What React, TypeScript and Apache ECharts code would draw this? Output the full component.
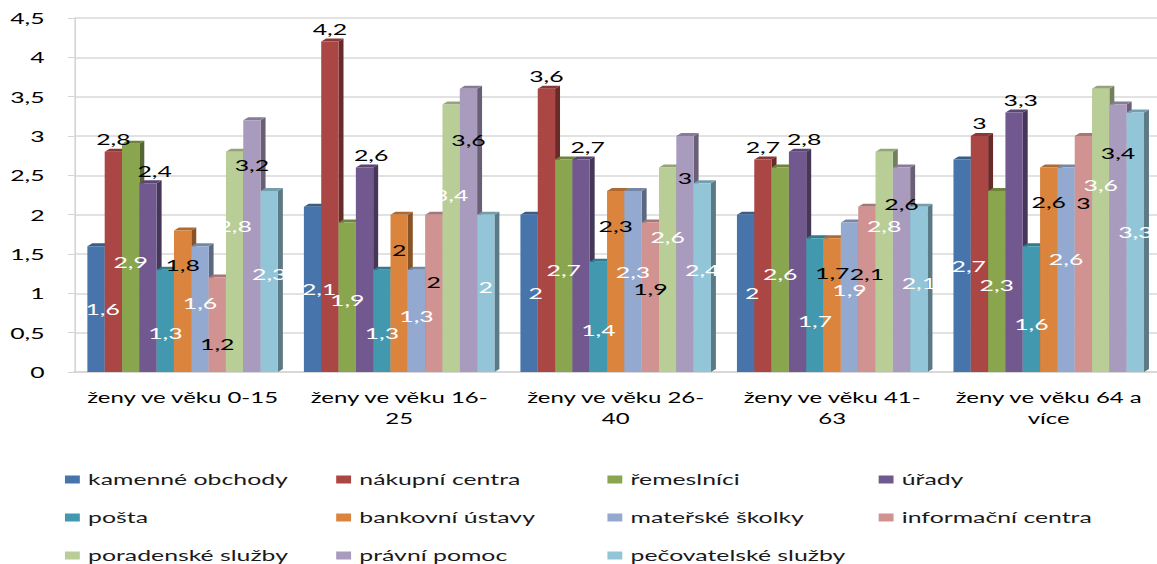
import React, { useEffect, useRef } from 'react';
import * as echarts from 'echarts';

// The reference picture is a horizontally stretched chart; we draw at a narrower width and stretch it.
const PAGE_W = 1157;
const INNER_W = 700;
const STRETCH = PAGE_W / INNER_W;

const categories = [
  'ženy ve věku 0-15',
  'ženy ve věku 16-\n25',
  'ženy ve věku 26-\n40',
  'ženy ve věku 41-\n63',
  'ženy ve věku 64 a\nvíce',
];

const seriesNames = [
  'kamenné obchody',
  'nákupní centra',
  'řemeslníci',
  'úřady',
  'pošta',
  'bankovní ústavy',
  'mateřské školky',
  'informační centra',
  'poradenské služby',
  'právní pomoc',
  'pečovatelské služby',
];

const kamenneObchody = [1.6, 2.1, 2, 2, 2.7];
const nakupniCentra = [2.8, 4.2, 3.6, 2.7, 3];
const remeslnici = [2.9, 1.9, 2.7, 2.6, 2.3];
const urady = [2.4, 2.6, 2.7, 2.8, 3.3];
const posta = [1.3, 1.3, 1.4, 1.7, 1.6];
const bankovniUstavy = [1.8, 2, 2.3, 1.7, 2.6];
const materskeSkolky = [1.6, 1.3, 2.3, 1.9, 2.6];
const informacniCentra = [1.2, 2, 1.9, 2.1, 3];
const poradenskeSluzby = [2.8, 3.4, 2.6, 2.8, 3.6];
const pravniPomoc = [3.2, 3.6, 3, 2.6, 3.4];
const pecovatelskeSluzby = [2.3, 2, 2.4, 2.1, 3.3];

const seriesValues = [
  kamenneObchody,
  nakupniCentra,
  remeslnici,
  urady,
  posta,
  bankovniUstavy,
  materskeSkolky,
  informacniCentra,
  poradenskeSluzby,
  pravniPomoc,
  pecovatelskeSluzby,
];

const colors = [
  '#4674AB',
  '#AA4644',
  '#89A54E',
  '#71588F',
  '#4198AF',
  '#DB843D',
  '#93A9CF',
  '#D19392',
  '#B9CD96',
  '#A99BBD',
  '#92C5D8',
];

const Y_MIN = 0;
const Y_MAX = 4.5;
const Y_STEP = 0.5;

const FONT = 'Lato';
const N = seriesNames.length;
const CAT_GAP = 0.12;
const DEPTH_X = 3;
const DEPTH_Y = 3;

function shade(hex: string, f: number): string {
  const n = parseInt(hex.slice(1), 16);
  const r = Math.round(((n >> 16) & 255) * f);
  const g = Math.round(((n >> 8) & 255) * f);
  const b = Math.round((n & 255) * f);
  return `rgb(${r},${g},${b})`;
}

const fmt = (v: number) => String(v).replace('.', ',');

// label placement per series (mimics the original's label layout)
type LabelRule =
  | { kind: 'frac'; y: string; dx?: number; color: string }
  | { kind: 'top'; dx?: number }
  | { kind: 'below'; d: number };

const labelRules: LabelRule[] = [
  { kind: 'frac', y: '50%', dx: 4, color: '#ffffff' },
  { kind: 'top' },
  { kind: 'frac', y: '52%', color: '#ffffff' },
  { kind: 'top', dx: 4 },
  { kind: 'frac', y: '62%', color: '#ffffff' },
  { kind: 'below', d: 27.5 },
  { kind: 'frac', y: '45%', color: '#ffffff' },
  { kind: 'below', d: 59.5 },
  { kind: 'frac', y: '34%', color: '#ffffff' },
  { kind: 'frac', y: '18%', color: '#000000' },
  { kind: 'frac', y: '46%', color: '#ffffff' },
];

function buildLabel(i: number) {
  const base = {
    show: true,
    fontFamily: FONT,
    fontSize: 15,
    formatter: (p: any) => fmt(p.value),
  };
  const r = labelRules[i];
  if (r.kind === 'frac') {
    return {
      ...base,
      position: ['50%', r.y],
      align: 'center',
      verticalAlign: 'middle',
      offset: [r.dx || 0, 0],
      color: r.color,
    };
  }
  if (r.kind === 'top') {
    return { ...base, position: 'top', distance: 5, color: '#000000', offset: [r.dx || 0, 0] };
  }
  return { ...base, position: 'insideTop', distance: r.d, color: '#000000' };
}

const legendCols = [39.3, 203.4, 367.5, 531.6];
const legendRows = [472, 510, 548];

export default function App() {
  const ref = useRef<HTMLDivElement>(null);

  useEffect(() => {
    if (!ref.current) return;
    const chart = echarts.init(ref.current, undefined, { renderer: 'svg' });

    const barSeries = seriesNames.map((name, i) => ({
      type: 'bar',
      name,
      data: seriesValues[i],
      barGap: '0%',
      barCategoryGap: `${CAT_GAP * 100}%`,
      itemStyle: { color: colors[i] },
      z: 3,
      label: buildLabel(i),
      emphasis: { disabled: true },
    }));

    const depthSeries = seriesNames.map((name, i) => ({
      type: 'custom',
      name,
      z: 2,
      silent: true,
      itemStyle: { color: colors[i] },
      data: seriesValues[i].map((v, j) => [j, v]),
      encode: { x: 0, y: 1 },
      renderItem: (params: any, api: any) => {
        const ci = api.value(0);
        const val = api.value(1);
        const base = api.coord([ci, 0]);
        const top = api.coord([ci, val]);
        const band = api.size([1, 0])[0];
        const bw = (band * (1 - CAT_GAP)) / N;
        const x0 = base[0] - (N * bw) / 2 + i * bw;
        const x1 = x0 + bw;
        const yb = base[1];
        const yt = top[1];
        return {
          type: 'group',
          children: [
            {
              type: 'polygon',
              shape: {
                points: [
                  [x1, yb],
                  [x1 + DEPTH_X, yb - DEPTH_Y],
                  [x1 + DEPTH_X, yt - DEPTH_Y],
                  [x1, yt],
                ],
              },
              style: { fill: shade(colors[i], 0.62) },
            },
            {
              type: 'polygon',
              shape: {
                points: [
                  [x0, yt],
                  [x0 + DEPTH_X, yt - DEPTH_Y],
                  [x1 + DEPTH_X, yt - DEPTH_Y],
                  [x1, yt],
                ],
              },
              style: { fill: shade(colors[i], 0.8) },
            },
          ],
        };
      },
    }));

    const option: any = {
      animation: false,
      textStyle: { fontFamily: FONT },
      grid: { left: 45, top: 18, bottom: 192, width: 656, containLabel: false },
      xAxis: {
        type: 'category',
        data: categories,
        axisLine: { show: true, lineStyle: { color: '#D4D4D4', width: 1.5 } },
        axisTick: { show: false },
        axisLabel: {
          interval: 0,
          fontFamily: FONT,
          fontSize: 14.5,
          lineHeight: 21,
          color: '#000000',
          margin: 15,
        },
      },
      yAxis: {
        type: 'value',
        min: Y_MIN,
        max: Y_MAX,
        interval: Y_STEP,
        axisLine: { show: true, lineStyle: { color: '#D4D4D4', width: 1 } },
        axisTick: { show: true, length: 4, lineStyle: { color: '#D4D4D4' } },
        splitLine: { show: true, lineStyle: { color: '#D9D9D9', width: 1.5 } },
        axisLabel: {
          fontFamily: FONT,
          fontSize: 15,
          color: '#000000',
          margin: 18,
          padding: [8, 0, 0, 0],
          formatter: (v: number) => fmt(v),
        },
      },
      legend: seriesNames.map((name, i) => ({
        data: [name],
        left: legendCols[i % 4],
        top: legendRows[Math.floor(i / 4)],
        padding: 0,
        icon: 'rect',
        itemWidth: 9,
        itemHeight: 8,
        selectedMode: false,
        textStyle: { fontFamily: FONT, fontSize: 15, color: '#1a1a1a' },
      })),
      series: [...barSeries, ...depthSeries],
    };

    chart.setOption(option);
    return () => chart.dispose();
  }, []);

  return (
    <div
      ref={ref}
      style={{
        position: 'absolute',
        left: 0,
        top: 0,
        width: INNER_W,
        height: 564,
        transform: `scaleX(${STRETCH})`,
        transformOrigin: '0 0',
      }}
    />
  );
}
